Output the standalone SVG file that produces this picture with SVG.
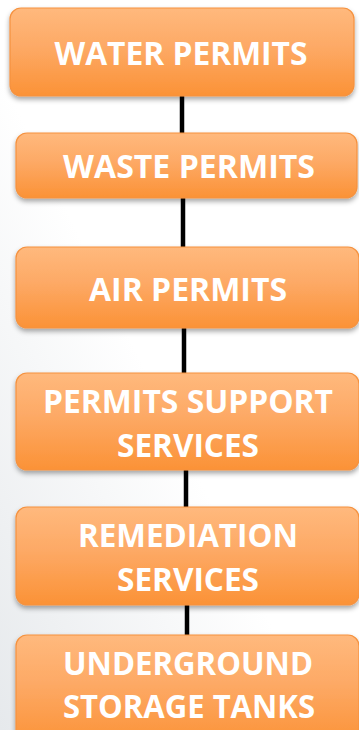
<svg xmlns="http://www.w3.org/2000/svg" width="359" height="730" viewBox="0 0 359 730">
<defs>
<linearGradient id="bg" x1="1" y1="0" x2="0" y2="1">
<stop offset="0" stop-color="#ffffff"/>
<stop offset="0.55" stop-color="#ffffff"/>
<stop offset="1" stop-color="#e6e9ec"/>
</linearGradient>
<linearGradient id="box" x1="0" y1="0" x2="0" y2="1">
<stop offset="0" stop-color="#ffb97d"/>
<stop offset="0.45" stop-color="#fda965"/>
<stop offset="1" stop-color="#fb9236"/>
</linearGradient>
<filter id="sh" x="-10%" y="-20%" width="120%" height="150%">
<feDropShadow dx="0" dy="3" stdDeviation="2.5" flood-color="#000" flood-opacity="0.35"/>
</filter>
</defs>
<style>
.b{fill:url(#box);stroke:#f5923f;stroke-width:1.2;filter:url(#sh)}
.t{font-family:"Open Sans","Liberation Sans",sans-serif;font-weight:bold;font-size:32px;fill:#ffffff;text-anchor:middle}
.c{stroke:#000;stroke-width:4.5;fill:none}
</style>
<rect width="359" height="730" fill="url(#bg)"/>
<g id="connectors">
<line class="c" x1="182" y1="95" x2="182" y2="134"/>
<line class="c" x1="183" y1="197" x2="183" y2="248"/>
<line class="c" x1="184" y1="327" x2="184" y2="374"/>
<line class="c" x1="186" y1="469" x2="186" y2="508"/>
<line class="c" x1="187" y1="604" x2="187" y2="636"/>
</g>
<g id="n1">
<rect class="b" x="10" y="8" width="344" height="88" rx="11"/>
<text class="t" x="181" y="65" textLength="253" lengthAdjust="spacingAndGlyphs">WATER PERMITS</text>
</g>
<g id="n2">
<rect class="b" x="16" y="133" width="341" height="65" rx="11"/>
<text class="t" x="189" y="178" textLength="252" lengthAdjust="spacingAndGlyphs">WASTE PERMITS</text>
</g>
<g id="n3">
<rect class="b" x="16" y="247" width="343" height="81" rx="11"/>
<text class="t" x="188" y="301" textLength="198" lengthAdjust="spacingAndGlyphs">AIR PERMITS</text>
</g>
<g id="n4">
<rect class="b" x="16" y="373" width="343" height="97" rx="11"/>
<text class="t" x="188" y="413" textLength="290" lengthAdjust="spacingAndGlyphs">PERMITS SUPPORT</text>
<text class="t" x="188" y="457" textLength="142" lengthAdjust="spacingAndGlyphs">SERVICES</text>
</g>
<g id="n5">
<rect class="b" x="16" y="507" width="343" height="98" rx="11"/>
<text class="t" x="188" y="547" textLength="220" lengthAdjust="spacingAndGlyphs">REMEDIATION</text>
<text class="t" x="188" y="591" textLength="142" lengthAdjust="spacingAndGlyphs">SERVICES</text>
</g>
<g id="n6">
<rect class="b" x="16" y="635" width="343" height="110" rx="11"/>
<text class="t" x="188" y="675" textLength="250" lengthAdjust="spacingAndGlyphs">UNDERGROUND</text>
<text class="t" x="189" y="718" textLength="252" lengthAdjust="spacingAndGlyphs">STORAGE TANKS</text>
</g>
</svg>
